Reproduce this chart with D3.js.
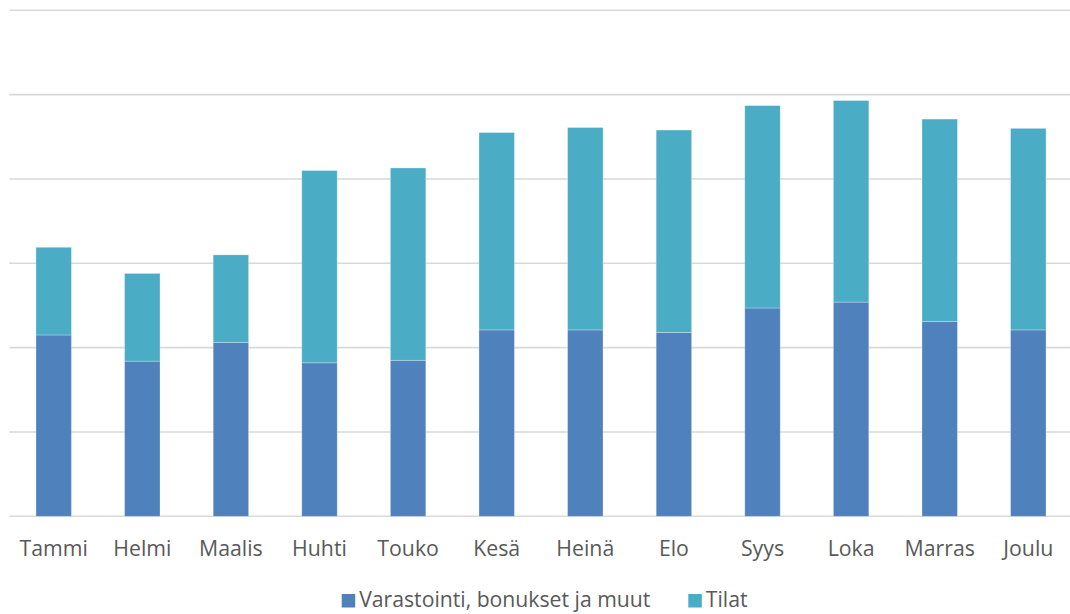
<!DOCTYPE html>
<html><head><meta charset="utf-8">
<script src="https://cdn.jsdelivr.net/npm/d3@7"></script>
<style>html,body{margin:0;padding:0;background:#fff;}svg{display:block;}</style>
</head><body>
<svg id="c" width="1070" height="614"></svg>
<script>
const months = ["Tammi","Helmi","Maalis","Huhti","Touko","Kesä","Heinä","Elo","Syys","Loka","Marras","Joulu"];
const varastointi = [215,184,206,182,185,221,221,218,247,254,231,221];
const tilat = [104,104,104,228,228,234,240,240,240,239,240,239];
const seriesNames = ["Varastointi, bonukset ja muut","Tilat"];
const colors = ["#4F81BD","#4BACC6"];
const yTicks = [0,100,200,300,400,500,600];

const FONT = "'Open Sans', Lato, sans-serif";
const svg = d3.select("#c");
const x = d3.scaleBand().domain(months).range([9.4,1072.6]).paddingInner(0.6).paddingOuter(0.3);
const y = d3.scaleLinear().domain([0,600]).range([516.3,10.3]);

svg.append("g").selectAll("line").data(yTicks).join("line")
  .attr("x1",9.4).attr("x2",1070).attr("y1",d=>y(d)).attr("y2",d=>y(d))
  .attr("stroke","#d9d9d9").attr("stroke-width",1.6);

const data = months.map((m,i)=>({month:m, v:varastointi[i], t:tilat[i]}));
const stack = d3.stack().keys(["v","t"])(data);
svg.append("g").selectAll("g").data(stack).join("g")
  .attr("fill",(d,i)=>colors[i])
  .selectAll("rect").data(d=>d).join("rect")
  .attr("x",d=>x(d.data.month)).attr("width",x.bandwidth())
  .attr("y",d=>y(d[1])).attr("height",d=>y(d[0])-y(d[1]))
  .attr("stroke","#ffffff").attr("stroke-opacity",0.35).attr("stroke-width",0.8);

const xAxis = svg.append("g").attr("transform","translate(0,516.3)")
  .call(d3.axisBottom(x).tickSize(0).tickPadding(0));
xAxis.select(".domain").remove();
xAxis.selectAll("text").attr("dy",null).attr("y",39.7)
  .attr("fill","#595959").attr("font-family",FONT).attr("font-size","21.3px");

const leg = svg.append("g").attr("font-family",FONT).attr("font-size","21.2px").attr("fill","#595959");
const legX = [341.7, 688.3];
seriesNames.forEach((n,i)=>{
  leg.append("rect").attr("x",legX[i]).attr("y",594).attr("width",13.5).attr("height",13.5).attr("fill",colors[i]);
  leg.append("text").attr("x",legX[i]+17.5).attr("y",607.3).text(n);
});
</script>
</body></html>
